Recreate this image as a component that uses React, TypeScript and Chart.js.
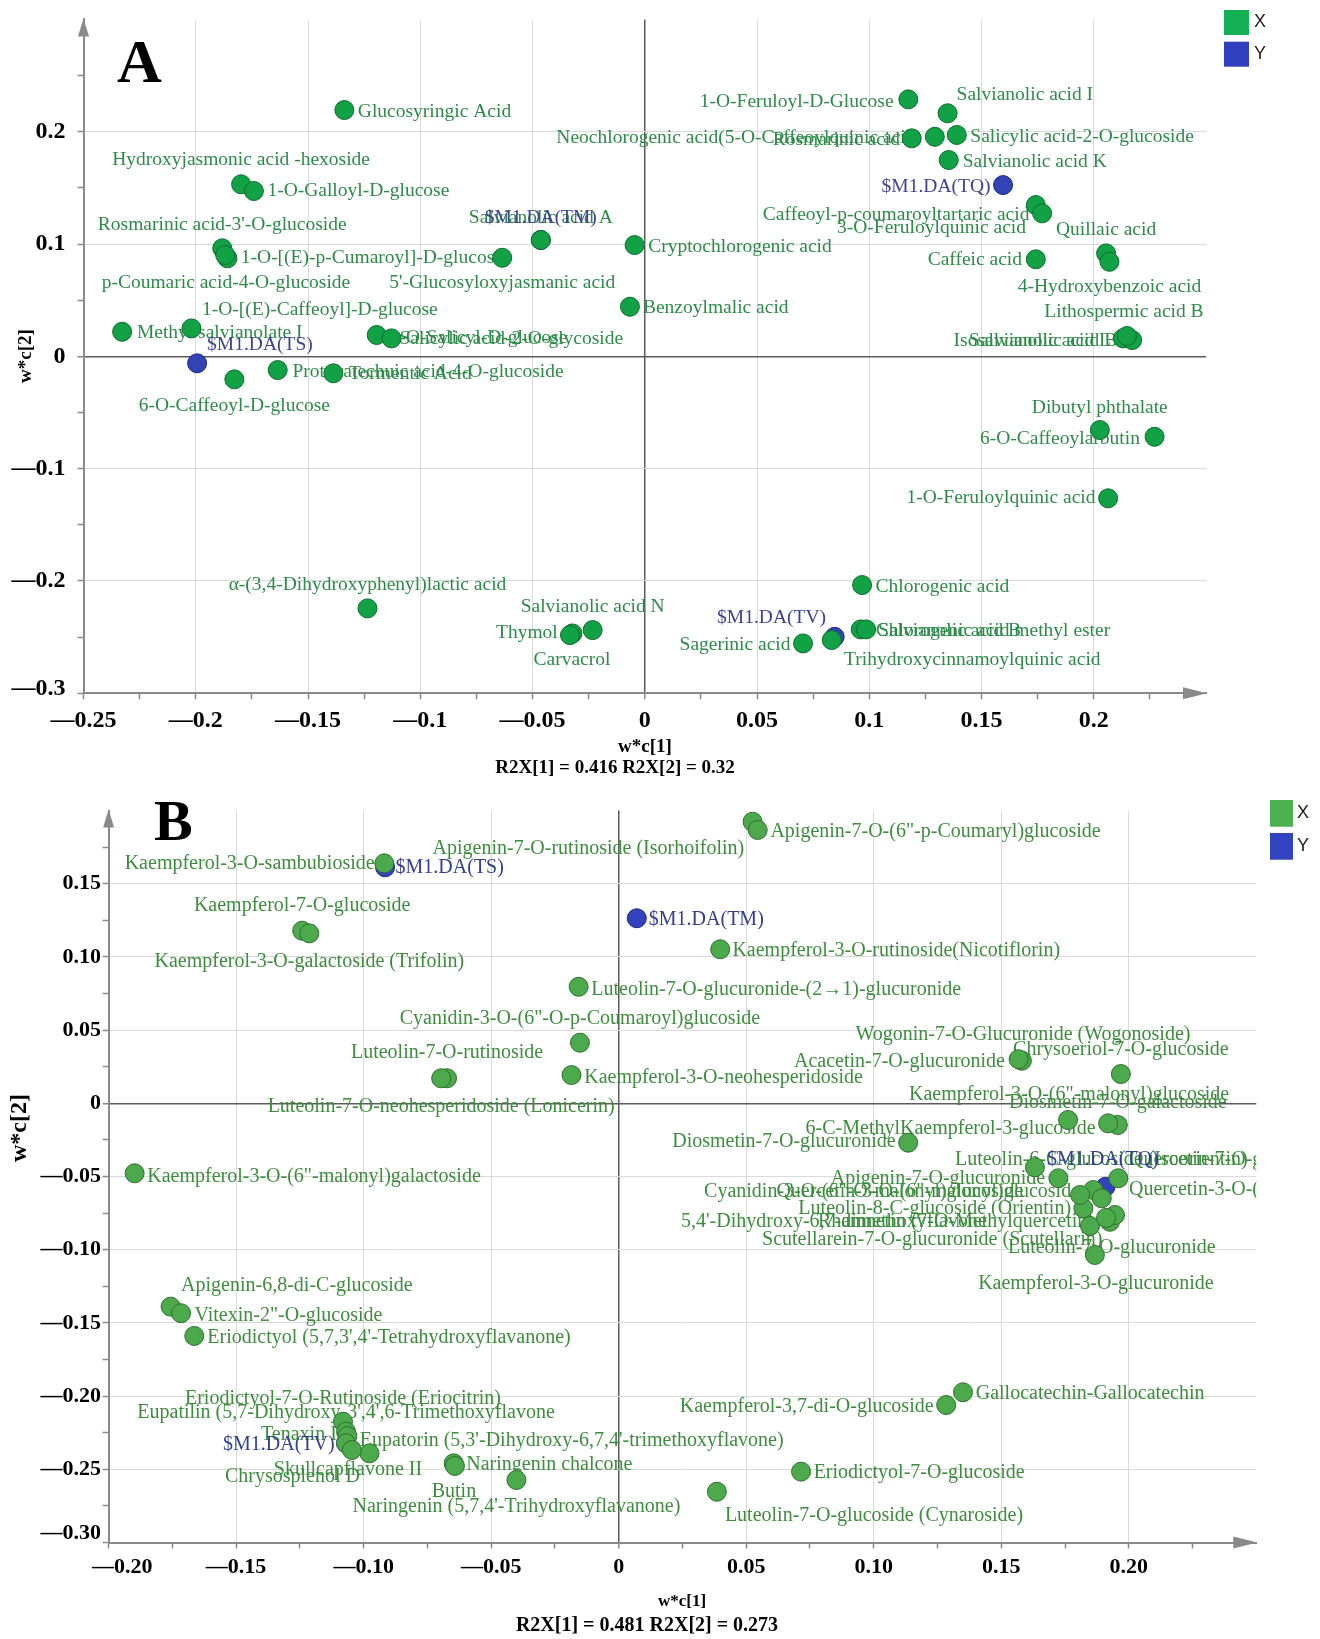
import { useEffect, useRef } from "react";
import { Chart, registerables } from "chart.js";

Chart.register(...registerables);

const SERIF = "'Liberation Serif', 'Times New Roman', Times, serif";
const SANS = "'Liberation Sans', Arial, Helvetica, sans-serif";

// ---------------- Panel A: X-block loadings (w*c[1], w*c[2]) ----------------
const compoundsA = [
  "Glucosyringic Acid",
  "Hydroxyjasmonic acid -hexoside",
  "1-O-Galloyl-D-glucose",
  "Rosmarinic acid-3'-O-glucoside",
  "1-O-[(E)-p-Cumaroyl]-D-glucose",
  "p-Coumaric acid-4-O-glucoside",
  "5'-Glucosyloxyjasmanic acid",
  "1-O-[(E)-Caffeoyl]-D-glucose",
  "Methyl salvianolate I",
  "1-O-Salicyl-D-glucose",
  "Salicylic acid-2-O-glycoside",
  "6-O-Caffeoyl-D-glucose",
  "Protocatechuic acid-4-O-glucoside",
  "Tormentic Acid",
  "Salvianolic acid A",
  "Cryptochlorogenic acid",
  "Benzoylmalic acid",
  "1-O-Feruloyl-D-Glucose",
  "Salvianolic acid I",
  "Rosmarinic acid",
  "Neochlorogenic acid(5-O-Caffeoylquinic acid)",
  "Salicylic acid-2-O-glucoside",
  "Salvianolic acid K",
  "3-O-Feruloylquinic acid",
  "Caffeoyl-p-coumaroyltartaric acid",
  "Quillaic acid",
  "4-Hydroxybenzoic acid",
  "Caffeic acid",
  "Salvianolic acid L",
  "Isosalvianolic acid B",
  "Lithospermic acid B",
  "α-(3,4-Dihydroxyphenyl)lactic acid",
  "Thymol",
  "Carvacrol",
  "Salvianolic acid N",
  "Dibutyl phthalate",
  "6-O-Caffeoylarbutin",
  "1-O-Feruloylquinic acid",
  "Chlorogenic acid",
  "Sagerinic acid",
  "Trihydroxycinnamoylquinic acid",
  "Chlorogenic acid methyl ester",
  "Salvianolic acid B",
];
const w1A = [
  -0.1338, -0.1798, -0.1741, -0.1882, -0.1859, -0.1869, -0.0635, -0.2019, -0.2328, -0.1194,
  -0.1128, -0.1828, -0.1635, -0.1387, -0.0463, -0.0045, -0.0066, 0.1174, 0.1349, 0.1189,
  0.1292, 0.139, 0.1354, 0.1742, 0.177, 0.2055, 0.207, 0.1742, 0.213, 0.2171,
  0.2148, -0.1235, -0.0322, -0.0333, -0.0232, 0.2027, 0.2271, 0.2064, 0.0968, 0.0705,
  0.0833, 0.0962, 0.0986,
];
const w2A = [
  0.2193, 0.1532, 0.1472, 0.0962, 0.0873, 0.0902, 0.0878, 0.0249, 0.0219, 0.019,
  0.016, -0.0205, -0.0122, -0.0151, 0.1036, 0.0991, 0.0442, 0.2288, 0.2164, 0.1941,
  0.1955, 0.1971, 0.1748, 0.1347, 0.1273, 0.0917, 0.0842, 0.0864, 0.016, 0.0145,
  0.0181, -0.2244, -0.2467, -0.2482, -0.2437, -0.0656, -0.0716, -0.1264, -0.2036, -0.2556,
  -0.2526, -0.2431, -0.2431,
];

// ---------------- Panel A: Y-block (class responses) ----------------
const responsesA = ["$M1.DA(TS)", "$M1.DA(TM)", "$M1.DA(TQ)", "$M1.DA(TV)"];
const w1RespA = [-0.1994, -0.0463, 0.1596, 0.0846];
const w2RespA = [-0.0062, 0.1036, 0.1525, -0.2497];

// ---------------- Panel A: axis tick labels ----------------
const xTickValsA = [-0.25, -0.2, -0.15, -0.1, -0.05, 0, 0.05, 0.1, 0.15, 0.2];
const xTickTextA = ["—0.25", "—0.2", "—0.15", "—0.1", "—0.05", "0", "0.05", "0.1", "0.15", "0.2"];
const yTickValsA = [-0.3, -0.2, -0.1, 0, 0.1, 0.2];
const yTickTextA = ["—0.3", "—0.2", "—0.1", "0", "0.1", "0.2"];

// ---------------- Panel B: X-block loadings ----------------
const compoundsB = [
  "Kaempferol-3-O-sambubioside",
  "Apigenin-7-O-rutinoside (Isorhoifolin)",
  "Apigenin-7-O-(6\"-p-Coumaryl)glucoside",
  "Kaempferol-7-O-glucoside",
  "Kaempferol-3-O-galactoside (Trifolin)",
  "Kaempferol-3-O-rutinoside(Nicotiflorin)",
  "Luteolin-7-O-glucuronide-(2→1)-glucuronide",
  "Cyanidin-3-O-(6\"-O-p-Coumaroyl)glucoside",
  "Luteolin-7-O-rutinoside",
  "Luteolin-7-O-neohesperidoside (Lonicerin)",
  "Kaempferol-3-O-neohesperidoside",
  "Kaempferol-3-O-(6\"-malonyl)galactoside",
  "Wogonin-7-O-Glucuronide (Wogonoside)",
  "Acacetin-7-O-glucuronide",
  "Chrysoeriol-7-O-glucoside",
  "Kaempferol-3-O-(6\"-malonyl)glucoside",
  "Diosmetin-7-O-galactoside",
  "6-C-MethylKaempferol-3-glucoside",
  "Diosmetin-7-O-glucuronide",
  "Luteolin-6-C-glucoside (Isoorientin)",
  "Apigenin-7-O-glucuronide",
  "Quercetin-7-O-glucoside",
  "Quercetin-3-O-(6\"-malonyl)glucoside",
  "Quercetin-3-O-(6\"-malonyl)galactoside",
  "Luteolin-8-C-glucoside (Orientin)",
  "Rhamnetin (7-O-Methylquercetin)",
  "5,4'-Dihydroxy-6,7-dimethoxyflavone",
  "Cyanidin-3-O-(6\"-O-malonyl)glucoside",
  "Scutellarein-7-O-glucuronide (Scutellarin)",
  "Kaempferol-3-O-glucuronide",
  "Luteolin-7-O-glucuronide",
  "Apigenin-6,8-di-C-glucoside",
  "Vitexin-2\"-O-glucoside",
  "Eriodictyol (5,7,3',4'-Tetrahydroxyflavanone)",
  "Eriodictyol-7-O-Rutinoside (Eriocitrin)",
  "Eupatilin (5,7-Dihydroxy-3',4',6-Trimethoxyflavone",
  "Tenaxin I",
  "Eupatorin (5,3'-Dihydroxy-6,7,4'-trimethoxyflavone)",
  "Skullcapflavone II",
  "Chrysosplenol D",
  "Naringenin chalcone",
  "Butin",
  "Naringenin (5,7,4'-Trihydroxyflavanone)",
  "Gallocatechin-Gallocatechin",
  "Kaempferol-3,7-di-O-glucoside",
  "Eriodictyol-7-O-glucoside",
  "Luteolin-7-O-glucoside (Cynaroside)",
];
const w1B = [
  -0.0919, 0.0525, 0.0545, -0.1241, -0.1213, 0.0398, -0.0157, -0.0152, -0.0673, -0.0696,
  -0.0185, -0.1898, 0.1581, 0.1568, 0.1969, 0.1762, 0.1957, 0.1919, 0.1135, 0.1632,
  0.1724, 0.1959, 0.1861, 0.1894, 0.1822, 0.1926, 0.1946, 0.1809, 0.1848, 0.1867,
  0.1911, -0.1757, -0.1716, -0.1664, -0.1081, -0.1069, -0.1064, -0.1069, -0.0977, -0.1046,
  -0.0647, -0.0642, -0.0401, 0.135, 0.1284, 0.0715, 0.0385,
];
const w2B = [
  0.1639, 0.1923, 0.1867, 0.1179, 0.1161, 0.1052, 0.0796, 0.0414, 0.0171, 0.0171,
  0.0193, -0.0478, 0.0291, 0.0301, 0.02, -0.0114, -0.0148, -0.0137, -0.0269, -0.0437,
  -0.0512, -0.0512, -0.0592, -0.0649, -0.0717, -0.0809, -0.0763, -0.0626, -0.0838, -0.1036,
  -0.0783, -0.1389, -0.1434, -0.1589, -0.2175, -0.2243, -0.2273, -0.2322, -0.2391, -0.2368,
  -0.2459, -0.2477, -0.2573, -0.1974, -0.2061, -0.2516, -0.2653,
];

// ---------------- Panel B: Y-block (class responses) ----------------
const responsesB = ["$M1.DA(TS)", "$M1.DA(TM)", "$M1.DA(TQ)", "$M1.DA(TV)"];
const w1RespB = [-0.0916, 0.0071, 0.1909, -0.1069];
const w2RespB = [0.1612, 0.1264, -0.057, -0.2322];

// ---------------- Panel B: axis tick labels ----------------
const xTickValsB = [-0.2, -0.15, -0.1, -0.05, 0, 0.05, 0.1, 0.15, 0.2];
const xTickTextB = ["—0.20", "—0.15", "—0.10", "—0.05", "0", "0.05", "0.10", "0.15", "0.20"];
const yTickValsB = [-0.3, -0.25, -0.2, -0.15, -0.1, -0.05, 0, 0.05, 0.1, 0.15];
const yTickTextB = ["—0.30", "—0.25", "—0.20", "—0.15", "—0.10", "—0.05", "0", "0.05", "0.10", "0.15"];

// Label placement around each marker: [anchor, dx, dy] in pixels.
// anchor: "r" text starts at dx, "l" text ends at dx, "c" text centred at dx.
type Place = [string, number, number];

const placesA: Place[] = [
  ["r", 13.5, 1.7], ["c", 0, -24.3], ["r", 13.5, 0], ["c", 0, -23], ["r", 13.4, 0],
  ["c", 0.8, 28.3], ["c", 0, 25.6], ["r", 10.5, -19], ["r", 14.8, 1.3], ["r", 13, 3],
  ["r", 8, 0], ["c", 0, 26.7], ["r", 14.7, 1.7], ["r", 15.7, 0.5], ["c", 0, -22],
  ["r", 13.5, 1.7], ["r", 13, 1.3], ["l", -14.7, 2.4], ["r", 9, -18], ["l", -11.7, 1.7],
  ["l", -12.8, 1.6], ["r", 13.5, 1.7], ["r", 14, 1.7], ["l", -9.8, 23.3], ["l", -12.7, 1.7],
  ["c", 0, -23.3], ["c", 0, 25], ["l", -13.8, 0.7], ["l", -12, 2], ["l", -15, 1],
  ["c", -3, -24.3], ["c", 0, -23.3], ["l", -14.7, -0.6], ["c", 2, 24.3], ["c", 0, -23.3],
  ["c", 0, -21.7], ["l", -14.7, 1.7], ["l", -12.6, 0], ["r", 13.5, 1.7], ["l", -12.5, 1.7],
  ["r", 12.3, 20], ["r", 15, 1.3], ["r", 12, 1.3],
];
const respPlacesA: Place[] = [["r", 10, -18.3], ["c", 0, -22], ["l", -12.6, 1.7], ["l", -8.7, -19.4]];

const placesB: Place[] = [
  ["l", -9.7, 0], ["l", -8.4, 27], ["r", 12.7, 1.7], ["c", 0, -24.7], ["c", 0, 28.4],
  ["r", 12.2, 1.4], ["r", 12.6, 2.6], ["c", 0, -24.4], ["c", 0, -25.6], ["c", 0, 28.4],
  ["r", 12.7, 2.3], ["r", 12.6, 3.4], ["c", 1, -25.7], ["l", -13.6, 2.4], ["c", 0, -24.7],
  ["c", 1, -25], ["c", 0, -22.3], ["l", -12.6, 5], ["l", -12.6, -1], ["r", -80, -7.3],
  ["l", -13.3, 0], ["r", 10.7, -18.3], ["l", -13.3, 1.7], ["r", 27.3, -8.3], ["l", -12.3, 0.7],
  ["l", -16, 0], ["r", -434, 6.7], ["r", -376, -3.3], ["r", -328, 14], ["c", 1, 28.5],
  ["c", 5.7, 30.3], ["r", 10.5, -20.7], ["r", 13.4, 2.7], ["r", 13, 1.7], ["c", 0, -23.4],
  ["c", 0, -19], ["l", -10.5, -1], ["r", 13.8, -2.3], ["c", -21.5, 16.7], ["l", 8, 26.7],
  ["r", 12.6, 1.7], ["c", -1, 25.7], ["c", 0, 26.7], ["r", 12.7, 1], ["l", -12.6, 1.7],
  ["r", 12.6, 1.6], ["r", 8, 24.3],
];
const respPlacesB: Place[] = [["r", 10.5, 0.7], ["r", 12, 1.7], ["c", -2.7, -26.7], ["l", -11.4, 1.7]];

type Spec = {
  w: number; h: number; top: number;
  xMin: number; xMax: number; xStep: number; xGrid: number;
  yMin: number; yMax: number; yStep: number; yGrid: number;
  xTickVals: number[]; xTickText: string[]; yTickVals: number[]; yTickText: string[];
  padTop: number; padRight: number; yAxisW: number; xAxisH: number;
  tickSize: number; xTickPad: number; yTickPad: number; tickLen: number;
  firstXIndent: number; lowYLift: number;
  names: string[]; w1: number[]; w2: number[]; places: Place[];
  respNames: string[]; respW1: number[]; respW2: number[]; respPlaces: Place[];
  labelSize: number;
  green: string; greenEdge: string; greenText: string;
  blue: string; blueEdge: string; blueText: string;
  legendGreen: string; legendBlue: string;
  letter: string; letterSize: number; letterX: number; letterY: number;
  yTitleSize: number; yTitleX: number; yTitleY: number;
  xTitleSize: number; xTitleX: number; xTitleY: number;
  r2x: string; r2xSize: number; r2xX: number; r2xY: number;
  legX: number; legY1: number; legY2: number; legW: number; legH: number; legTextX: number; legSize: number;
};

const specA: Spec = {
  w: 1320, h: 780, top: 0,
  xMin: -0.25, xMax: 0.25, xStep: 0.025, xGrid: 0.05,
  yMin: -0.3, yMax: 0.3, yStep: 0.05, yGrid: 0.1,
  xTickVals: xTickValsA, xTickText: xTickTextA, yTickVals: yTickValsA, yTickText: yTickTextA,
  padTop: 19.4, padRight: 114, yAxisW: 83.5, xAxisH: 86.7,
  tickSize: 24, xTickPad: 7, yTickPad: 12, tickLen: 6,
  firstXIndent: 0, lowYLift: 5,
  names: compoundsA, w1: w1A, w2: w2A, places: placesA,
  respNames: responsesA, respW1: w1RespA, respW2: w2RespA, respPlaces: respPlacesA,
  labelSize: 19.5,
  green: "#13a146", greenEdge: "#0b6d2c", greenText: "#2e8a49",
  blue: "#3243b6", blueEdge: "#1d2879", blueText: "#3d4294",
  legendGreen: "#12b052", legendBlue: "#2f3fbd",
  letter: "A", letterSize: 62, letterX: 117, letterY: 82,
  yTitleSize: 19, yTitleX: 26, yTitleY: 356,
  xTitleSize: 19, xTitleX: 645, xTitleY: 747,
  r2x: "R2X[1] = 0.416 R2X[2] = 0.32", r2xSize: 19, r2xX: 615, r2xY: 768.5,
  legX: 1224, legY1: 10, legY2: 41.7, legW: 25, legH: 25, legTextX: 1254, legSize: 18,
};

const specB: Spec = {
  w: 1320, h: 859, top: 780,
  xMin: -0.2, xMax: 0.25, xStep: 0.025, xGrid: 0.05,
  yMin: -0.3, yMax: 0.2, yStep: 0.025, yGrid: 0.05,
  xTickVals: xTickValsB, xTickText: xTickTextB, yTickVals: yTickValsB, yTickText: yTickTextB,
  padTop: 30.5, padRight: 63.7, yAxisW: 108.6, xAxisH: 96.5,
  tickSize: 22, xTickPad: 6, yTickPad: 1.5, tickLen: 6,
  firstXIndent: 5, lowYLift: 9,
  names: compoundsB, w1: w1B, w2: w2B, places: placesB,
  respNames: responsesB, respW1: w1RespB, respW2: w2RespB, respPlaces: respPlacesB,
  labelSize: 20,
  green: "#4caa4c", greenEdge: "#2e6f2e", greenText: "#3e8c3e",
  blue: "#3343bd", blueEdge: "#1d2878", blueText: "#34408f",
  legendGreen: "#4cb050", legendBlue: "#3344c0",
  letter: "B", letterSize: 58, letterX: 154, letterY: 60,
  yTitleSize: 24, yTitleX: 20, yTitleY: 348,
  xTitleSize: 17, xTitleX: 682, xTitleY: 821.7,
  r2x: "R2X[1] = 0.481 R2X[2] = 0.273", r2xSize: 20, r2xX: 647, r2xY: 846,
  legX: 1270, legY1: 20, legY2: 53, legW: 23, legH: 26.7, legTextX: 1297, legSize: 18,
};

const EPS = 1e-6;
const same = (a: number, b: number) => Math.abs(a - b) < EPS;
const onStep = (v: number, step: number) => Math.abs(v / step - Math.round(v / step)) < EPS;
const tickText = (v: number, vals: number[], texts: string[]) => {
  const i = vals.findIndex((t) => same(t, v));
  return i >= 0 ? texts[i] : "";
};

function makeAxis(s: Spec, axis: "x" | "y") {
  const isX = axis === "x";
  const min = isX ? s.xMin : s.yMin;
  const max = isX ? s.xMax : s.yMax;
  const grid = isX ? s.xGrid : s.yGrid;
  const vals = isX ? s.xTickVals : s.yTickVals;
  const texts = isX ? s.xTickText : s.yTickText;
  return {
    type: "linear" as const,
    position: isX ? ("bottom" as const) : ("left" as const),
    min,
    max,
    ticks: {
      stepSize: isX ? s.xStep : s.yStep,
      autoSkip: false,
      maxRotation: 0,
      minRotation: 0,
      padding: isX ? s.xTickPad : s.yTickPad,
      color: "#000",
      font: (c: any) => {
        const v = c.tick ? c.tick.value : NaN;
        // the lowest y label sits slightly above its tick (two-line label, tight line height)
        const lh = !isX && same(v, min) ? s.lowYLift * 2 : s.tickSize * 1.2;
        return { family: SERIF, size: s.tickSize, weight: "bold" as const, lineHeight: `${lh}px` };
      },
      callback: (v: number | string) => {
        const n = Number(v);
        const t = tickText(n, vals, texts);
        if (isX && same(n, min) && t) return " ".repeat(s.firstXIndent) + t;
        if (!isX && same(n, min) && t && s.lowYLift > 0) return [t, ""];
        return t;
      },
    },
    grid: {
      drawTicks: true,
      tickLength: s.tickLen,
      tickWidth: 1.5,
      color: (c: any) => {
        const v = c.tick ? c.tick.value : NaN;
        if (same(v, min) || same(v, max)) return "rgba(0,0,0,0)";
        if (Math.abs(v) < EPS) return "#5c5c5c";
        return onStep(v, grid) ? "#dadada" : "rgba(0,0,0,0)";
      },
      lineWidth: (c: any) => (c.tick && Math.abs(c.tick.value) < EPS ? 1.5 : 1),
      tickColor: (c: any) => {
        const v = c.tick ? c.tick.value : NaN;
        return same(v, max) ? "rgba(0,0,0,0)" : "#8a8a8a";
      },
    },
    border: { display: true, color: "#8a8a8a", width: 2 },
    afterFit: (sc: any) => {
      // fixed axis band; no extra room reserved for overhanging tick labels
      if (isX) sc.height = s.xAxisH;
      else sc.width = s.yAxisW;
      sc.paddingTop = 0;
      sc.paddingBottom = 0;
      sc.paddingLeft = 0;
      sc.paddingRight = 0;
    },
  };
}

function drawLabels(chart: any, s: Spec) {
  const ctx = chart.ctx as CanvasRenderingContext2D;
  const area = chart.chartArea;
  ctx.save();
  ctx.beginPath();
  ctx.rect(0, 0, area.right, chart.height);
  ctx.clip();
  ctx.font = `${s.labelSize}px ${SERIF}`;
  ctx.textBaseline = "middle";
  const groups = [
    { names: s.names, places: s.places, color: s.greenText },
    { names: s.respNames, places: s.respPlaces, color: s.blueText },
  ];
  groups.forEach((g, di) => {
    const meta = chart.getDatasetMeta(di);
    meta.data.forEach((pt: any, i: number) => {
      const [anchor, dx, dy] = g.places[i];
      ctx.fillStyle = g.color;
      ctx.textAlign = anchor === "r" ? "left" : anchor === "l" ? "right" : "center";
      ctx.fillText(g.names[i], pt.x + dx, pt.y + dy);
    });
  });
  ctx.restore();
}

function drawFrame(chart: any, s: Spec) {
  const ctx = chart.ctx as CanvasRenderingContext2D;
  const a = chart.chartArea;
  ctx.save();
  // axis arrow heads
  ctx.fillStyle = "#8a8a8a";
  ctx.beginPath();
  ctx.moveTo(a.right + 1, a.bottom);
  ctx.lineTo(a.right - 23, a.bottom - 6);
  ctx.lineTo(a.right - 23, a.bottom + 6);
  ctx.closePath();
  ctx.fill();
  ctx.beginPath();
  ctx.moveTo(a.left, a.top - 1);
  ctx.lineTo(a.left - 5.5, a.top + 17);
  ctx.lineTo(a.left + 5.5, a.top + 17);
  ctx.closePath();
  ctx.fill();

  // panel letter
  ctx.fillStyle = "#000";
  ctx.textAlign = "left";
  ctx.textBaseline = "alphabetic";
  ctx.font = `bold ${s.letterSize}px ${SERIF}`;
  ctx.fillText(s.letter, s.letterX, s.letterY);

  // axis titles
  ctx.textAlign = "center";
  ctx.textBaseline = "middle";
  ctx.font = `bold ${s.xTitleSize}px ${SERIF}`;
  ctx.fillText("w*c[1]", s.xTitleX, s.xTitleY);
  ctx.font = `bold ${s.r2xSize}px ${SERIF}`;
  ctx.fillText(s.r2x, s.r2xX, s.r2xY);
  ctx.save();
  ctx.translate(s.yTitleX, s.yTitleY);
  ctx.rotate(-Math.PI / 2);
  ctx.font = `bold ${s.yTitleSize}px ${SERIF}`;
  ctx.fillText("w*c[2]", 0, 0);
  ctx.restore();

  // legend
  ctx.fillStyle = s.legendGreen;
  ctx.fillRect(s.legX, s.legY1, s.legW, s.legH);
  ctx.fillStyle = s.legendBlue;
  ctx.fillRect(s.legX, s.legY2, s.legW, s.legH);
  ctx.fillStyle = "#222";
  ctx.textAlign = "left";
  ctx.font = `${s.legSize}px ${SANS}`;
  ctx.fillText("X", s.legTextX, s.legY1 + s.legH / 2);
  ctx.fillText("Y", s.legTextX, s.legY2 + s.legH / 2);
  ctx.restore();
}

function LoadingPanel({ spec }: { spec: Spec }) {
  const ref = useRef<HTMLCanvasElement | null>(null);
  useEffect(() => {
    const canvas = ref.current;
    if (!canvas) return;
    const s = spec;
    const overlay = {
      id: "loadingAnnotations",
      beforeDatasetsDraw: (chart: any) => drawLabels(chart, s),
      afterDraw: (chart: any) => drawFrame(chart, s),
    };
    const chart = new Chart(canvas, {
      type: "scatter",
      data: {
        datasets: [
          {
            label: "X",
            data: s.w1.map((x, i) => ({ x, y: s.w2[i] })),
            pointRadius: 9.5,
            pointBackgroundColor: s.green,
            pointBorderColor: s.greenEdge,
            pointBorderWidth: 1,
            showLine: false,
          },
          {
            label: "Y",
            data: s.respW1.map((x, i) => ({ x, y: s.respW2[i] })),
            pointRadius: 9.5,
            pointBackgroundColor: s.blue,
            pointBorderColor: s.blueEdge,
            pointBorderWidth: 1,
            showLine: false,
          },
        ],
      },
      options: {
        animation: false,
        responsive: false,
        maintainAspectRatio: false,
        devicePixelRatio: 1,
        events: [],
        layout: { padding: { left: 0, top: s.padTop, right: s.padRight, bottom: 0 } },
        plugins: { legend: { display: false }, tooltip: { enabled: false }, title: { display: false } },
        scales: { x: makeAxis(s, "x") as any, y: makeAxis(s, "y") as any },
      },
      plugins: [overlay],
    });
    return () => chart.destroy();
  }, [spec]);
  return (
    <canvas
      ref={ref}
      width={spec.w}
      height={spec.h}
      style={{ position: "absolute", left: 0, top: spec.top, width: spec.w, height: spec.h }}
    />
  );
}

export default function App() {
  return (
    <div style={{ position: "absolute", left: 0, top: 0, width: 1320, height: 1639, background: "#fff" }}>
      <LoadingPanel spec={specA} />
      <LoadingPanel spec={specB} />
    </div>
  );
}
